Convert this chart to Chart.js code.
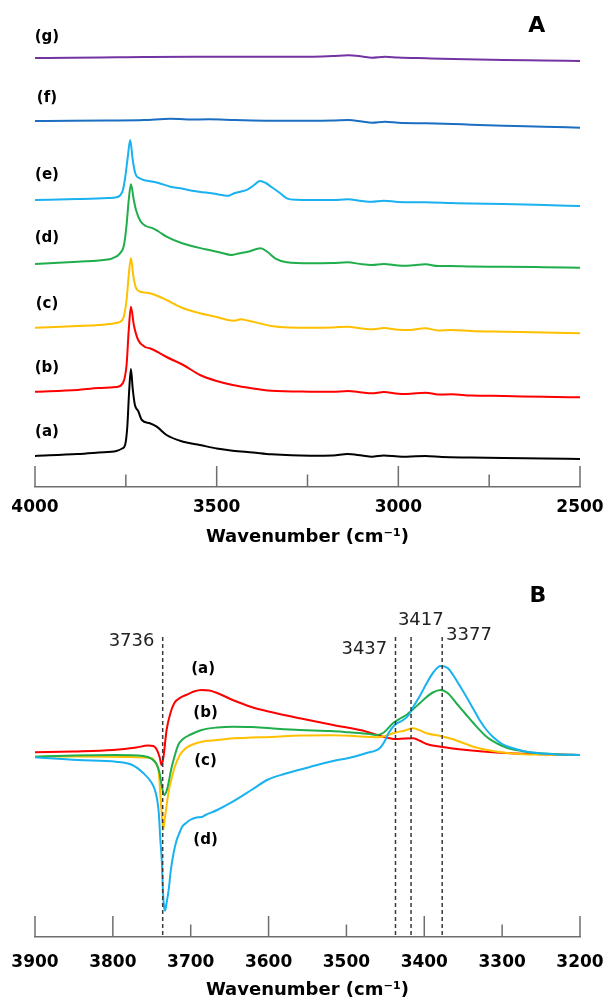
<!DOCTYPE html>
<html lang="en">
<head>
<meta charset="UTF-8">
<title>FTIR spectra</title>
<script src="https://cdn.jsdelivr.net/npm/chart.js"></script>
<style>
  body { margin: 0; background: #fff; }
  canvas { position: absolute; left: 0; }
  #chartA { top: 0; }
  #chartB { top: 555px; }
</style>
</head>
<body>
<canvas id="chartA" width="608" height="555"></canvas>
<canvas id="chartB" width="608" height="450"></canvas>
<script>
// ---- panel A : spectra (a)-(g), [wavenumber, absorbance incl. offset] ----
const specA_a = [[4000,0.31],[3883,0.33],[3825,0.345],[3776,0.36],[3760,0.385],[3752,0.42],[3746,0.60],[3741,0.95],[3736,1.18],[3731,0.98],[3725,0.82],[3716,0.76],[3706,0.67],[3684,0.637],[3665,0.603],[3638,0.52],[3592,0.453],[3546,0.42],[3500,0.385],[3456,0.363],[3400,0.345],[3350,0.327],[3243,0.313],[3180,0.315],[3140,0.33],[3100,0.315],[3073,0.303],[3040,0.315],[3000,0.305],[2977,0.303],[2925,0.31],[2880,0.30],[2800,0.295],[2710,0.29],[2600,0.285],[2500,0.28]];
const specA_b = [[4000,0.953],[3883,0.97],[3825,0.99],[3776,1.0],[3758,1.04],[3748,1.22],[3742,1.57],[3736,1.803],[3728,1.62],[3716,1.47],[3697,1.40],[3684,1.387],[3656,1.337],[3638,1.30],[3592,1.22],[3546,1.12],[3500,1.06],[3456,1.02],[3400,0.985],[3350,0.963],[3243,0.953],[3180,0.952],[3140,0.96],[3100,0.945],[3073,0.937],[3040,0.95],[3000,0.932],[2977,0.93],[2925,0.943],[2890,0.925],[2854,0.927],[2800,0.915],[2710,0.91],[2600,0.902],[2500,0.897]];
const specA_c = [[4000,1.593],[3883,1.61],[3825,1.62],[3776,1.64],[3758,1.68],[3748,1.87],[3742,2.12],[3736,2.29],[3729,2.10],[3722,1.99],[3707,1.95],[3684,1.937],[3656,1.90],[3638,1.87],[3592,1.787],[3546,1.737],[3500,1.70],[3470,1.67],[3450,1.663],[3435,1.677],[3415,1.665],[3380,1.635],[3350,1.61],[3300,1.595],[3243,1.593],[3180,1.595],[3140,1.603],[3100,1.585],[3073,1.577],[3040,1.59],[3000,1.573],[2977,1.57],[2925,1.587],[2890,1.565],[2854,1.57],[2800,1.56],[2710,1.553],[2600,1.545],[2500,1.537]];
const specA_d = [[4000,2.23],[3883,2.253],[3800,2.275],[3787,2.287],[3766,2.337],[3755,2.42],[3748,2.62],[3742,2.87],[3736,3.027],[3728,2.87],[3722,2.77],[3710,2.66],[3695,2.61],[3675,2.587],[3660,2.555],[3638,2.503],[3595,2.437],[3531,2.377],[3490,2.345],[3459,2.32],[3440,2.335],[3414,2.353],[3379,2.387],[3360,2.35],[3339,2.287],[3307,2.247],[3243,2.237],[3180,2.24],[3140,2.247],[3100,2.227],[3073,2.22],[3040,2.23],[3000,2.215],[2977,2.213],[2925,2.227],[2890,2.21],[2854,2.21],[2800,2.205],[2710,2.203],[2600,2.198],[2500,2.193]];
const specA_e = [[4000,2.87],[3883,2.88],[3800,2.89],[3776,2.897],[3766,2.915],[3758,2.97],[3752,3.09],[3745,3.29],[3738,3.47],[3731,3.27],[3724,3.137],[3711,3.085],[3695,3.065],[3675,3.053],[3660,3.04],[3627,3.003],[3600,2.987],[3563,2.96],[3510,2.935],[3467,2.913],[3450,2.94],[3435,2.953],[3414,2.977],[3395,3.025],[3381,3.06],[3365,3.04],[3350,3.003],[3326,2.94],[3307,2.887],[3280,2.872],[3243,2.87],[3180,2.87],[3140,2.877],[3100,2.86],[3073,2.853],[3040,2.863],[3000,2.85],[2925,2.847],[2854,2.84],[2800,2.835],[2710,2.83],[2600,2.82],[2500,2.81]];
const specA_f = [[4000,3.66],[3900,3.662],[3800,3.665],[3700,3.67],[3627,3.683],[3580,3.675],[3520,3.677],[3450,3.67],[3350,3.663],[3250,3.663],[3180,3.665],[3137,3.67],[3100,3.655],[3073,3.643],[3037,3.653],[3000,3.642],[2923,3.637],[2850,3.63],[2800,3.623],[2710,3.613],[2600,3.603],[2500,3.593]];
const specA_g = [[4000,4.29],[3900,4.292],[3776,4.297],[3700,4.30],[3563,4.303],[3400,4.303],[3243,4.303],[3180,4.31],[3137,4.317],[3100,4.305],[3073,4.293],[3037,4.303],[3000,4.295],[2923,4.287],[2850,4.28],[2710,4.27],[2600,4.265],[2500,4.26]];
const namesA = ['(a)', '(b)', '(c)', '(d)', '(e)', '(f)', '(g)'];
const majorTicksA = [4000, 3500, 3000, 2500];

// ---- panel B : difference spectra (a)-(d) ----
const specB_a = [[3900,0.027],[3850,0.035],[3800,0.05],[3770,0.075],[3755,0.095],[3748,0.09],[3744,0.06],[3740,-0.02],[3737.5,-0.10],[3735,-0.02],[3731,0.25],[3726,0.42],[3721,0.52],[3713,0.575],[3706,0.60],[3696,0.635],[3686,0.65],[3676,0.645],[3666,0.62],[3646,0.55],[3622,0.48],[3597,0.43],[3560,0.367],[3517,0.30],[3474,0.233],[3453,0.183],[3437,0.16],[3425,0.165],[3414,0.167],[3405,0.14],[3397,0.11],[3379,0.083],[3346,0.05],[3303,0.023],[3250,0.008],[3200,0]];
const specB_b = [[3900,-0.017],[3850,-0.005],[3796,0],[3761,-0.01],[3750,-0.04],[3744,-0.09],[3740,-0.18],[3737,-0.32],[3734,-0.40],[3731,-0.36],[3728,-0.26],[3725,-0.14],[3721,-0.02],[3716,0.10],[3710,0.16],[3700,0.205],[3686,0.25],[3666,0.275],[3646,0.283],[3622,0.28],[3597,0.267],[3560,0.25],[3520,0.24],[3497,0.227],[3470,0.21],[3461,0.20],[3452,0.225],[3440,0.32],[3430,0.37],[3423,0.40],[3414,0.46],[3406,0.517],[3397,0.58],[3389,0.625],[3379,0.65],[3370,0.62],[3359,0.52],[3348,0.42],[3337,0.32],[3320,0.183],[3305,0.11],[3294,0.073],[3275,0.04],[3260,0.023],[3230,0.008],[3200,0]];
const specB_c = [[3900,-0.017],[3850,-0.015],[3796,-0.017],[3760,-0.025],[3751,-0.03],[3745,-0.08],[3741,-0.18],[3739,-0.4],[3737,-0.62],[3735.5,-0.75],[3733,-0.62],[3730,-0.45],[3728,-0.35],[3724,-0.22],[3721,-0.13],[3714,0.0],[3706,0.07],[3696,0.11],[3686,0.133],[3666,0.15],[3646,0.167],[3622,0.175],[3597,0.18],[3560,0.195],[3520,0.198],[3497,0.193],[3470,0.18],[3461,0.177],[3450,0.19],[3438,0.223],[3425,0.245],[3414,0.267],[3405,0.245],[3397,0.217],[3379,0.19],[3363,0.157],[3350,0.12],[3337,0.083],[3312,0.04],[3277,0.01],[3240,0.003],[3200,0]];
const specB_d = [[3900,-0.023],[3845,-0.05],[3796,-0.067],[3775,-0.10],[3761,-0.18],[3750,-0.28],[3746,-0.35],[3743,-0.45],[3741,-0.58],[3739,-0.85],[3737,-1.08],[3736,-1.30],[3734.5,-1.50],[3733,-1.557],[3731,-1.48],[3728,-1.33],[3726,-1.18],[3722,-0.98],[3718,-0.85],[3714,-0.77],[3711,-0.717],[3706,-0.68],[3701,-0.65],[3691,-0.623],[3686,-0.62],[3681,-0.60],[3666,-0.55],[3646,-0.467],[3622,-0.35],[3602,-0.25],[3580,-0.19],[3547,-0.12],[3517,-0.06],[3497,-0.03],[3474,0.02],[3457,0.07],[3450,0.15],[3446,0.217],[3438,0.30],[3427,0.35],[3420,0.40],[3414,0.483],[3405,0.60],[3397,0.717],[3388,0.83],[3379,0.89],[3370,0.87],[3363,0.80],[3355,0.70],[3346,0.583],[3337,0.46],[3329,0.35],[3320,0.25],[3312,0.183],[3300,0.11],[3286,0.067],[3270,0.035],[3252,0.017],[3230,0.006],[3200,0]];
const namesB = ['(a)', '(b)', '(c)', '(d)'];
const bandsB = [3736, 3437, 3417, 3377];
const majorTicksB = [3900, 3800, 3600, 3400, 3200];

const BOLD = 'DejaVu Sans';

function trace(pairs, color) {
  return {
    data: pairs.map(p => ({x: p[0], y: p[1]})),
    borderColor: color, borderWidth: 2, showLine: true, fill: false,
    pointRadius: 0, tension: 0.3, cubicInterpolationMode: 'monotone'
  };
}

// ticks drawn upward from the axis line, long on labelled ones
const innerTicks = {
  id: 'innerTicks',
  afterDraw(chart, args, opts) {
    const sx = chart.scales.x, ctx = chart.ctx, y0 = chart.chartArea.bottom;
    ctx.save();
    ctx.strokeStyle = '#6e6e6e';
    ctx.lineWidth = 1.5;
    sx.ticks.forEach(t => {
      const px = sx.getPixelForValue(t.value);
      const len = opts.major.includes(t.value) ? 21 : 12.5;
      ctx.beginPath();
      ctx.moveTo(px, y0);
      ctx.lineTo(px, y0 - len);
      ctx.stroke();
    });
    ctx.restore();
  }
};

const notes = {
  id: 'notes',
  afterDatasetsDraw(chart, args, opts) {
    const {x, y} = chart.scales, ctx = chart.ctx;
    ctx.save();
    ctx.textAlign = 'center';
    ctx.textBaseline = 'middle';
    opts.items.forEach(it => {
      ctx.font = it.font;
      ctx.fillStyle = it.color || '#000';
      ctx.fillText(it.text, x.getPixelForValue(it.x), y.getPixelForValue(it.y));
    });
    ctx.restore();
  }
};

function xAxis(min, max, step, majors, labelPad, titlePad, onlyMajorLabels) {
  return {
    type: 'linear', reverse: true, min: min, max: max,
    ticks: {
      stepSize: step, autoSkip: false, maxRotation: 0, padding: labelPad, color: '#000',
      font: {family: BOLD, weight: 'bold', size: 17},
      callback: v => (!onlyMajorLabels || majors.includes(v)) ? String(v) : ''
    },
    grid: {display: false, drawTicks: false},
    border: {display: true, color: '#6e6e6e', width: 1.5},
    title: {
      display: true, text: 'Wavenumber (cm⁻¹)', color: '#000',
      font: {family: BOLD, weight: 'bold', size: 18},
      padding: {top: 0, bottom: titlePad}
    },
    // fixed axis height; edge labels fit inside the layout padding
    afterFit: s => { s.height = 68; s.paddingLeft = 0; s.paddingRight = 0; }
  };
}

const common = {
  responsive: false, animation: false, devicePixelRatio: 1,
  layout: {padding: {left: 35, right: 28, top: 20, bottom: 0}},
  plugins: {legend: {display: false}, tooltip: {enabled: false}}
};

// panel A
const colorsA = ['#000000', '#ff0000', '#ffc000', '#1fae4b', '#19b1ef', '#1b6fc2', '#7334a3'];
const specsA = [specA_a, specA_b, specA_c, specA_d, specA_e, specA_f, specA_g];
const labelYA = [0.547, 1.187, 1.827, 2.487, 3.12, 3.89, 4.50];

new Chart(document.getElementById('chartA'), {
  type: 'scatter',
  data: {datasets: specsA.map((s, i) => trace(s, colorsA[i]))},
  options: Object.assign({}, common, {
    scales: {
      x: xAxis(2500, 4000, 250, majorTicksA, 10.5, 6.7, true),
      y: {display: false, min: 0, max: 4.67}
    },
    plugins: Object.assign({}, common.plugins, {
      innerTicks: {major: majorTicksA},
      notes: {items: namesA.map((n, i) => ({text: n, x: 3967, y: labelYA[i], font: 'bold 15px DejaVu Sans'}))
        .concat([{text: 'A', x: 2619, y: 4.61, font: 'bold 22px DejaVu Sans'}])}
    })
  }),
  plugins: [innerTicks, notes]
});

// panel B
const colorsB = ['#ff0000', '#1fae4b', '#ffc000', '#19b1ef'];
const specsB = [specB_a, specB_b, specB_c, specB_d];
const bandLines = bandsB.map(b => ({
  data: [{x: b, y: 1.18}, {x: b, y: -1.82}],
  borderColor: '#3a3a3a', borderWidth: 1.5, borderDash: [4, 3],
  showLine: true, pointRadius: 0, tension: 0
}));
const labelPosB = [[3684, 0.857], [3681, 0.423], [3681, -0.057], [3681, -0.85]];
const bandTextPos = [[3776, 1.133], [3477, 1.057], [3404.5, 1.35], [3342.6, 1.20]];
const drawOrderB = [3, 1, 2, 0];

new Chart(document.getElementById('chartB'), {
  type: 'scatter',
  data: {datasets: bandLines.concat(drawOrderB.map(i => trace(specsB[i], colorsB[i])))},
  options: Object.assign({}, common, {
    scales: {
      x: xAxis(3200, 3900, 100, majorTicksB, 15, 4.2, false),
      y: {display: false, min: -1.82, max: 1.80}
    },
    plugins: Object.assign({}, common.plugins, {
      innerTicks: {major: majorTicksB},
      notes: {items: namesB.map((n, i) => ({text: n, x: labelPosB[i][0], y: labelPosB[i][1], font: 'bold 15px DejaVu Sans'}))
        .concat(bandsB.map((b, i) => ({text: String(b), x: bandTextPos[i][0], y: bandTextPos[i][1], font: '18px DejaVu Sans', color: '#222'})))
        .concat([{text: 'B', x: 3254, y: 1.59, font: 'bold 22px DejaVu Sans'}])}
    })
  }),
  plugins: [innerTicks, notes]
});
</script>
</body>
</html>
